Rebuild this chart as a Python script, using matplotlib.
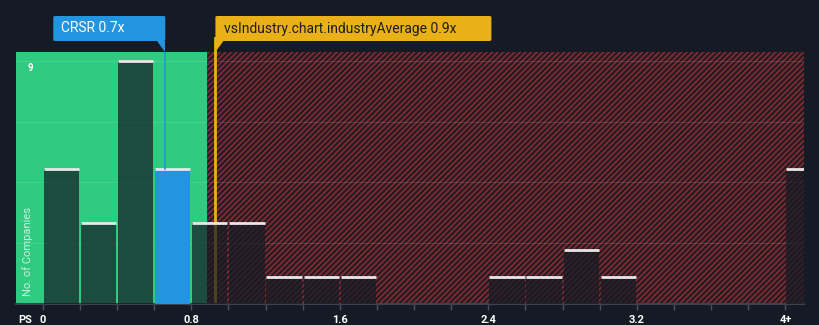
import numpy as np
import matplotlib
matplotlib.use("Agg")
import matplotlib.pyplot as plt
from matplotlib.patches import Rectangle, FancyBboxPatch, Polygon

plt.rcParams['font.family'] = ['Roboto', 'DejaVu Sans']
plt.rcParams['hatch.linewidth'] = 1.5

# data
bin_left = [0.0, 0.2, 0.4, 0.6, 0.8, 1.0, 1.2, 1.4, 1.6, 2.4, 2.6, 2.8, 3.0, 4.0]
counts = [5, 3, 9, 5, 3, 3, 1, 1, 1, 1, 1, 2, 1, 5]
tick_pos = [0, 0.8, 1.6, 2.4, 3.2, 4.0]
tick_labels = ['0', '0.8', '1.6', '2.4', '3.2', '4+']
company_ps = 0.66
company_label = 'CRSR 0.7x'
industry_ps = 0.93
industry_label = 'vsIndustry.chart.industryAverage 0.9x'
fair_end = 0.885
bin_w = 0.2

bg = '#151b24'
green = '#2ecb80'
red_hatch = '#782a30'
blue = '#2394df'
yellow = '#e9b018'

fig = plt.figure(figsize=(8.2, 3.25), dpi=100, facecolor=bg)
ax = fig.add_axes([16 / 820, 21 / 325, 788 / 820, 252 / 325])
ax.set_facecolor(bg)
x0, x1 = -0.144, 4.10
y0, y1 = 0, 9.33
ax.set_xlim(x0, x1)
ax.set_ylim(y0, y1)

# background zones
ax.add_patch(Rectangle((x0, 0), fair_end - x0, y1, facecolor=green, edgecolor='none', zorder=0))
ax.add_patch(Rectangle((fair_end, 0), x1 - fair_end, y1, facecolor='#1d1a22', edgecolor=red_hatch,
                       hatch='//////', linewidth=0, zorder=0))

# grid
for g in [2.25, 4.5, 6.75, 9]:
    ax.axhline(g, color='white', alpha=0.12, lw=0.8, zorder=1)

# bars
for left, c in zip(bin_left, counts):
    is_company = left <= company_ps < left + bin_w
    if is_company:
        ax.bar(left + 0.005, c, width=bin_w - 0.01, align='edge', color=blue, zorder=3)
    else:
        ax.bar(left + 0.005, c, width=bin_w - 0.01, align='edge', color=bg, alpha=0.72, zorder=3)
    ax.plot([left + 0.005, left + bin_w - 0.005], [c, c], color='#e8e8e8', lw=2, zorder=4,
            solid_capstyle='butt')

# industry line (behind bars)
ax.plot([industry_ps, industry_ps], [0, y1], color=yellow, lw=2, zorder=2)
# company line
ax.plot([company_ps, company_ps], [5, y1], color=blue, lw=1.2, zorder=5)

for s in ['top', 'right', 'left']:
    ax.spines[s].set_visible(False)
ax.spines['bottom'].set_color('#3c424b')
ax.spines['bottom'].set_linewidth(1.5)
ax.set_yticks([])
ax.set_xticks(np.arange(0, 4.01, 0.2))
ax.set_xticklabels([])
ax.tick_params(axis='x', colors='#4a5058', length=4, width=1)

lab_y = 1 - 320 / 325
for p, lab in zip(tick_pos, tick_labels):
    xf = fig.transFigure.inverted().transform(ax.transData.transform((p, 0)))[0]
    fig.text(xf, lab_y, lab, ha='center', va='center', color='white', fontsize=8, fontweight='bold')
fig.text(18 / 820, lab_y, 'PS', color='white', fontsize=8, fontweight='bold', va='center')
fig.text(28 / 820, 1 - 68 / 325, '9', color='white', fontsize=7, fontweight='bold', va='center')
fig.text(28 / 820, 1 - 252 / 325, 'No. of Companies', color='white', alpha=0.75, fontsize=8,
         rotation=90, va='center', ha='center')

# callouts
def fig_x(xd):
    return fig.transFigure.inverted().transform(ax.transData.transform((xd, 0)))[0]

H = 325.0
W = 820.0
top = 1 - 16 / H
bot = 1 - 41 / H
tail = 1 - 52 / H
cx = fig_x(company_ps)
bw = 112 / W
fig.patches.append(FancyBboxPatch((cx - bw, bot), bw, top - bot, boxstyle='round,pad=0,rounding_size=0.003',
                                  facecolor=blue, edgecolor='none', transform=fig.transFigure))
fig.patches.append(Polygon([(cx - 8 / W, bot), (cx, bot), (cx, tail)], closed=True, facecolor=blue,
                           edgecolor='none', transform=fig.transFigure))
fig.text(cx - bw + 8 / W, (top + bot) / 2, company_label, color='white', fontsize=10, va='center')

ix = fig_x(industry_ps)
yw = 276 / W
fig.patches.append(FancyBboxPatch((ix, bot), yw, top - bot, boxstyle='round,pad=0,rounding_size=0.003',
                                  facecolor=yellow, edgecolor='none', transform=fig.transFigure))
fig.patches.append(Polygon([(ix, bot), (ix + 8 / W, bot), (ix, tail)], closed=True, facecolor=yellow,
                           edgecolor='none', transform=fig.transFigure))
fig.text(ix + 9 / W, (top + bot) / 2, industry_label, color='#1e1e1e', fontsize=10, va='center')
ax.plot([industry_ps, industry_ps], [y1, y1 + 0.5], color=yellow, lw=2, clip_on=False, zorder=2)

fig.savefig('out.png', dpi=100, facecolor=bg)
